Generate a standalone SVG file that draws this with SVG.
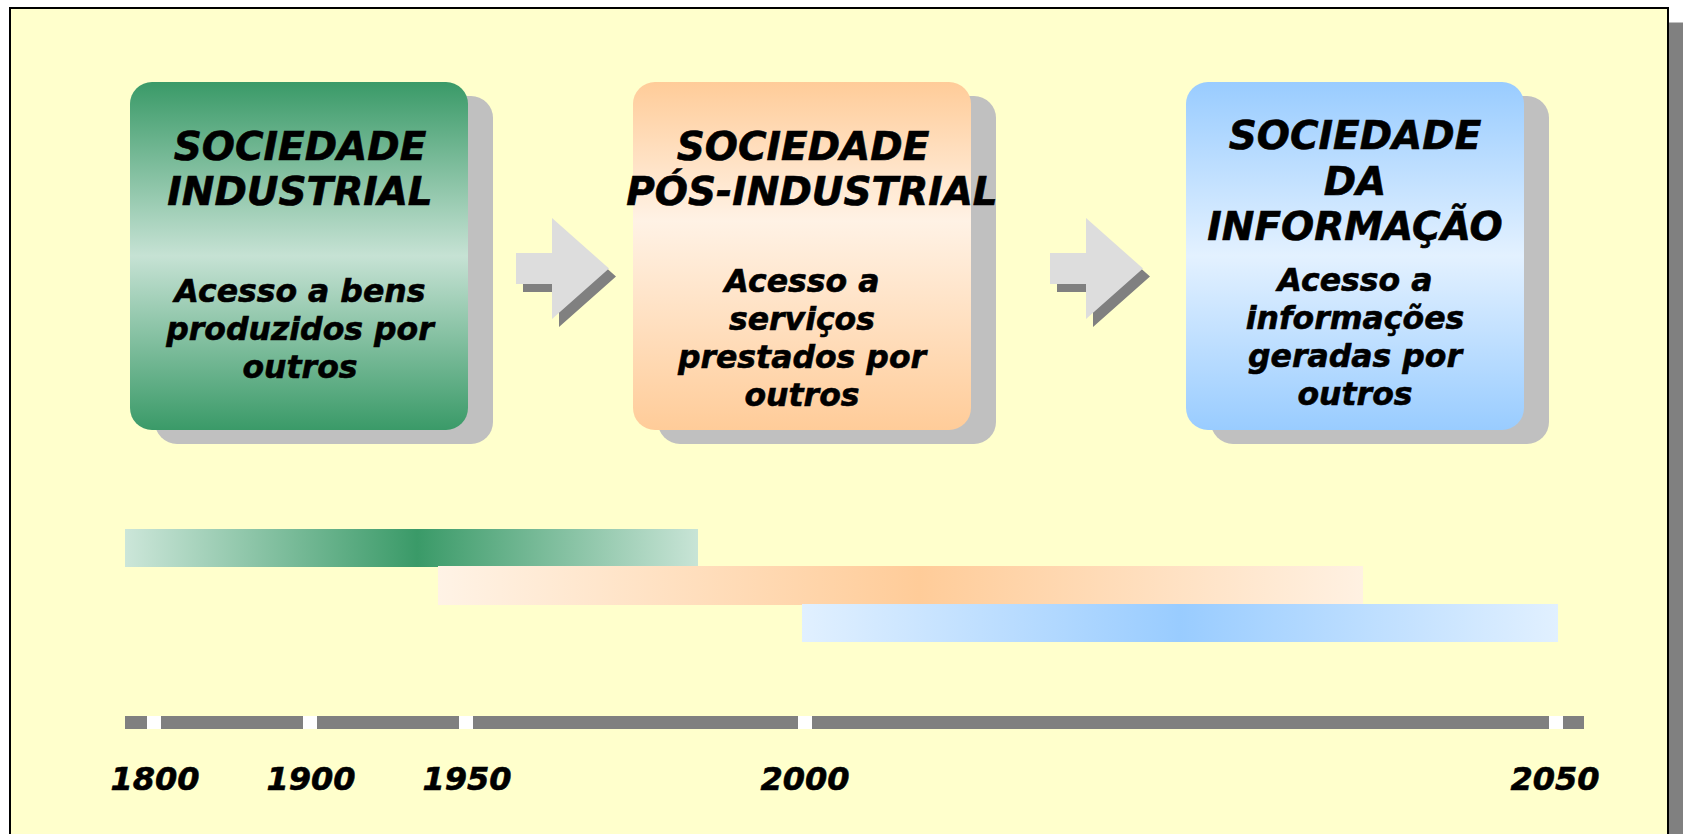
<svg xmlns="http://www.w3.org/2000/svg" width="1683" height="834" viewBox="0 0 1683 834">
  <style>
    .t { font-family: "DejaVu Sans", Verdana, sans-serif; font-weight: bold; font-style: italic; fill: #000; stroke: #000; stroke-width: 0.6px; text-anchor: middle; }
    .title { font-size: 39px; }
    .sub { font-size: 31.5px; }
    .year { font-size: 32px; }
    .shadow { fill: #C0C0C0; }
    .arrow { fill: #DDDDDD; }
    .arrowsh { fill: #808080; }
    .axis { fill: #808080; }
    .tick { fill: #FFFFFF; }
  </style>
  <defs>
    <linearGradient id="gGreen" x1="0" y1="0" x2="0" y2="1">
      <stop offset="0" stop-color="#3A9A68"/>
      <stop offset="0.5" stop-color="#C6E2D4"/>
      <stop offset="1" stop-color="#3A9A68"/>
    </linearGradient>
    <linearGradient id="gOrange" x1="0" y1="0" x2="0" y2="1">
      <stop offset="0" stop-color="#FFCC99"/>
      <stop offset="0.4" stop-color="#FFF2E5"/>
      <stop offset="1" stop-color="#FFCC99"/>
    </linearGradient>
    <linearGradient id="gBlue" x1="0" y1="0" x2="0" y2="1">
      <stop offset="0" stop-color="#99CCFF"/>
      <stop offset="0.5" stop-color="#E3F1FF"/>
      <stop offset="1" stop-color="#99CCFF"/>
    </linearGradient>
    <linearGradient id="hGreen" x1="0" y1="0" x2="1" y2="0">
      <stop offset="0" stop-color="#CCE6D9"/>
      <stop offset="0.51" stop-color="#3A9A68"/>
      <stop offset="1" stop-color="#C8E4D6"/>
    </linearGradient>
    <linearGradient id="hOrange" x1="0" y1="0" x2="1" y2="0">
      <stop offset="0" stop-color="#FFF3E6"/>
      <stop offset="0.52" stop-color="#FFCC99"/>
      <stop offset="1" stop-color="#FFF1E2"/>
    </linearGradient>
    <linearGradient id="hBlue" x1="0" y1="0" x2="1" y2="0">
      <stop offset="0" stop-color="#E1F0FF"/>
      <stop offset="0.5" stop-color="#99CCFF"/>
      <stop offset="1" stop-color="#E1F0FF"/>
    </linearGradient>
    <polygon id="arrowShape" points="516,253 552,253 552,218 609,268.5 552,319 552,284 516,284"/>
  </defs>

  <rect x="0" y="0" width="1683" height="834" fill="#FFFFFF"/>
  <g id="frame">
    <rect x="1669" y="22" width="14" height="812" fill="#808080"/>
    <rect x="1669" y="22" width="14" height="1" fill="#C0C0C0"/>
    <rect x="10" y="8" width="1658" height="840" fill="#FFFFCC" stroke="#000000" stroke-width="2"/>
  </g>

  <g id="node-industrial">
    <rect class="shadow" x="155" y="96" width="338" height="348" rx="22"/>
    <rect x="130" y="82" width="338" height="348" rx="22" fill="url(#gGreen)"/>
    <text class="t title" x="300" y="160">SOCIEDADE</text>
    <text class="t title" x="300" y="205">INDUSTRIAL</text>
    <text class="t sub" x="300" y="302">Acesso a bens</text>
    <text class="t sub" x="300" y="340">produzidos por</text>
    <text class="t sub" x="300" y="378">outros</text>
  </g>

  <g id="node-pos-industrial">
    <rect class="shadow" x="658" y="96" width="338" height="348" rx="22"/>
    <rect x="633" y="82" width="338" height="348" rx="22" fill="url(#gOrange)"/>
    <text class="t title" x="803" y="160">SOCIEDADE</text>
    <text class="t title" x="812" y="205">PÓS-INDUSTRIAL</text>
    <text class="t sub" x="802" y="292">Acesso a</text>
    <text class="t sub" x="802" y="330">serviços</text>
    <text class="t sub" x="802" y="368">prestados por</text>
    <text class="t sub" x="802" y="406">outros</text>
  </g>

  <g id="node-informacao">
    <rect class="shadow" x="1211" y="96" width="338" height="348" rx="22"/>
    <rect x="1186" y="82" width="338" height="348" rx="22" fill="url(#gBlue)"/>
    <text class="t title" x="1355" y="149">SOCIEDADE</text>
    <text class="t title" x="1355" y="195">DA</text>
    <text class="t title" x="1355" y="240">INFORMAÇÃO</text>
    <text class="t sub" x="1355" y="291">Acesso a</text>
    <text class="t sub" x="1355" y="329">informações</text>
    <text class="t sub" x="1355" y="367">geradas por</text>
    <text class="t sub" x="1355" y="405">outros</text>
  </g>

  <g id="connectors">
    <use href="#arrowShape" class="arrowsh" transform="translate(7,8)"/>
    <use href="#arrowShape" class="arrow"/>
    <use href="#arrowShape" class="arrowsh" transform="translate(541,8)"/>
    <use href="#arrowShape" class="arrow" transform="translate(534,0)"/>
  </g>

  <g id="timeline-bars">
    <rect x="125" y="529" width="573" height="38" fill="url(#hGreen)"/>
    <rect x="438" y="566" width="925" height="39" fill="url(#hOrange)"/>
    <rect x="802" y="604" width="756" height="38" fill="url(#hBlue)"/>
  </g>

  <g id="axis">
    <rect class="axis" x="125" y="716" width="1459" height="13"/>
    <rect class="tick" x="147" y="716" width="14" height="13"/>
    <rect class="tick" x="303" y="716" width="14" height="13"/>
    <rect class="tick" x="459" y="716" width="14" height="13"/>
    <rect class="tick" x="798" y="716" width="14" height="13"/>
    <rect class="tick" x="1549" y="716" width="14" height="13"/>
    <text class="t year" x="155" y="790">1800</text>
    <text class="t year" x="311" y="790">1900</text>
    <text class="t year" x="467" y="790">1950</text>
    <text class="t year" x="805" y="790">2000</text>
    <text class="t year" x="1555" y="790">2050</text>
  </g>
</svg>
